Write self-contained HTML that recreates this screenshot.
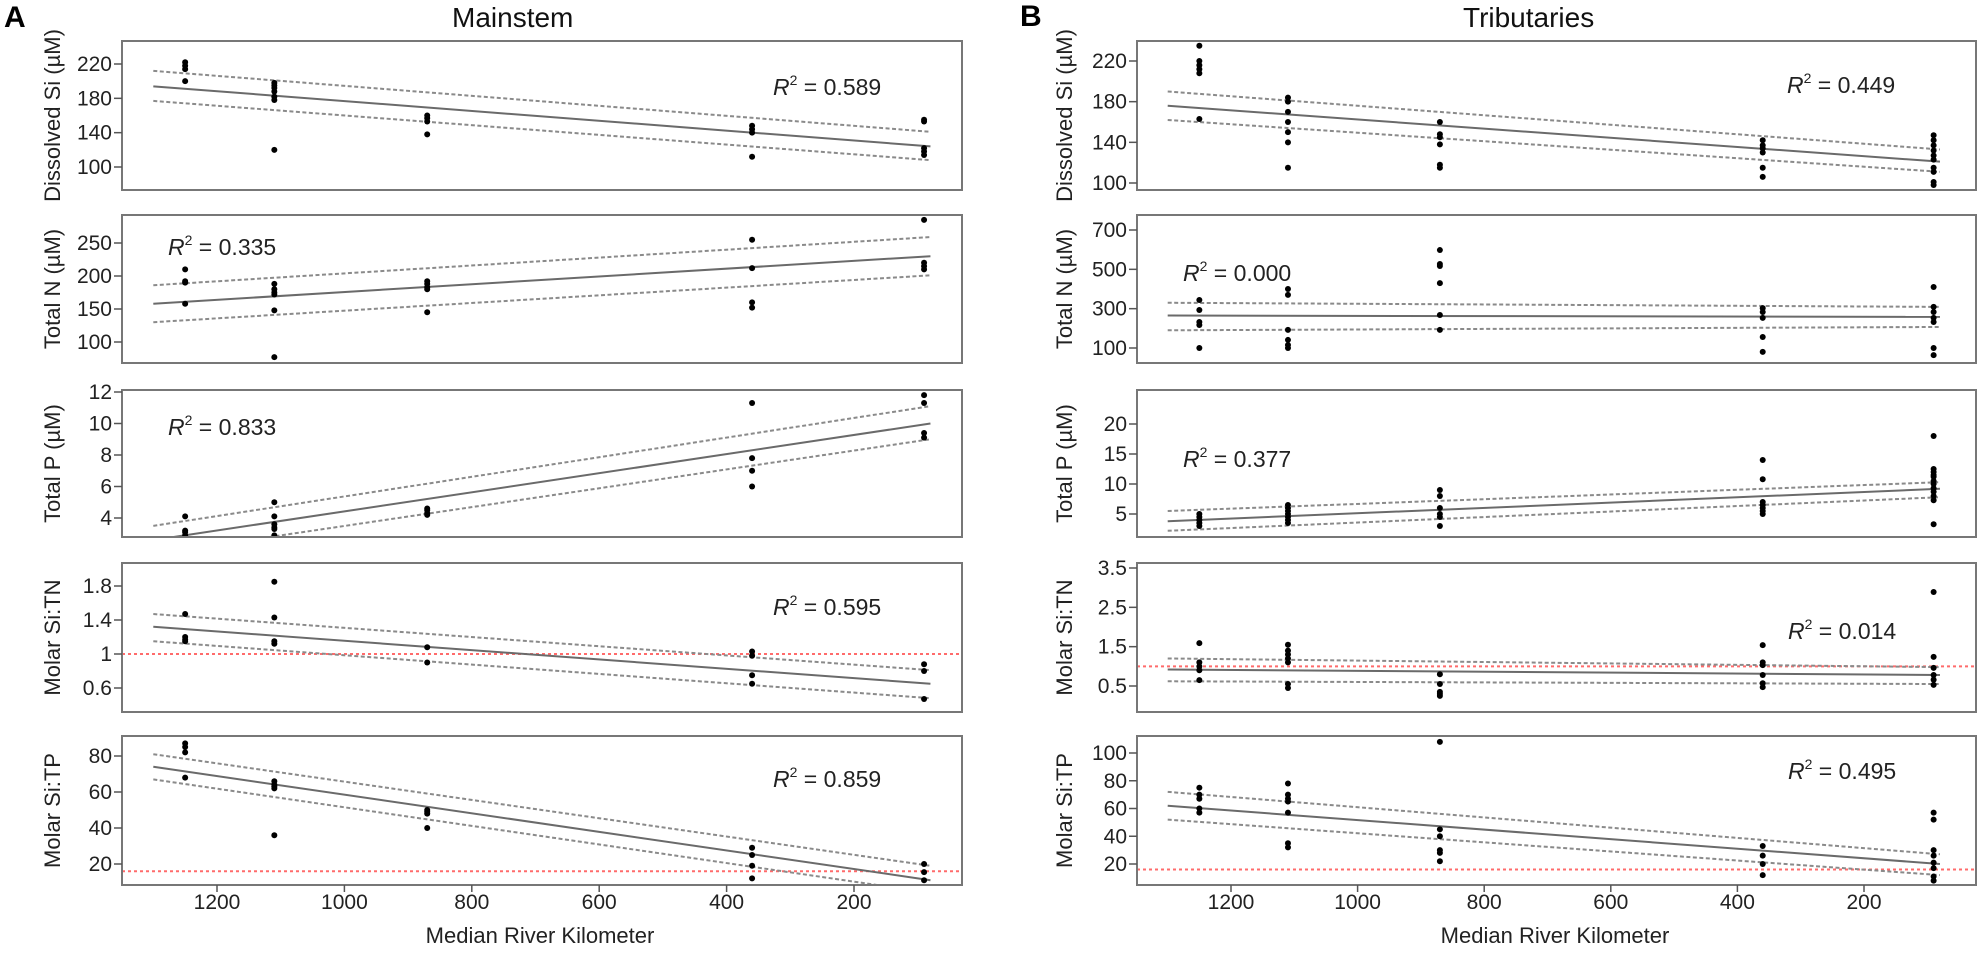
<!DOCTYPE html>
<html><head><meta charset="utf-8"><title>River nutrient regressions</title>
<style>
html,body{margin:0;padding:0;background:#fff;}
svg{display:block;font-family:"Liberation Sans",Arial,sans-serif;}
</style></head>
<body>
<svg id="chart" width="1981" height="954" viewBox="0 0 1981 954" xmlns="http://www.w3.org/2000/svg">
<text x="4" y="27" font-size="30" font-weight="bold" fill="#000">A</text>
<text x="1020" y="26" font-size="30" font-weight="bold" fill="#000">B</text>
<text x="452" y="27" font-size="28" fill="#111">Mainstem</text>
<text x="1463" y="27" font-size="28" fill="#111">Tributaries</text>
<text x="540" y="943" font-size="22" fill="#222" text-anchor="middle">Median River Kilometer</text>
<text x="1555" y="943" font-size="22" fill="#222" text-anchor="middle">Median River Kilometer</text>
</svg>
<script>
// x positions (river km) of sampling sites
const siteKm = [1250, 1110, 870, 360, 90];
const xTicks = [1200, 1000, 800, 600, 400, 200];
const panelTitles = ["Dissolved Si (µM)", "Total N (µM)", "Total P (µM)", "Molar Si:TN", "Molar Si:TP"];
const panelNames = ["dissolved-si", "total-n", "total-p", "molar-si-tn", "molar-si-tp"];

// Mainstem data (values per site)
const mainSi = [[222,218,214,200],[198,195,192,188,182,178,120],[160,157,153,138],[148,144,140,112],[155,153,122,118,114]];
const mainTN = [[210,192,190,158],[188,180,175,172,148,77],[192,188,183,180,145],[255,212,160,152],[285,220,215,210]];
const mainTP = [[4.1,3.2,3.1,2.9],[5.0,4.1,3.6,3.4,3.3,2.9],[4.6,4.5,4.3,4.2],[11.3,7.8,7.0,6.0],[11.8,11.3,9.4,9.1]];
const mainSiTN = [[1.47,1.2,1.17,1.15],[1.85,1.43,1.15,1.12],[1.08,0.9],[1.03,0.98,0.75,0.65],[0.88,0.80,0.47]];
const mainSiTP = [[87,85,82,68],[66,64,63,62,36],[50,49,48,40],[29,25,19,12],[20,15.5,11]];
// Mainstem fits: [value at 1300 km, value at 80 km]
const mainFitSi = [194,124], mainUpSi = [212,141], mainLoSi = [177,108];
const mainFitTN = [158,230], mainUpTN = [186,259], mainLoTN = [130,201];
const mainFitTP = [2.6,10.0], mainUpTP = [3.5,11.1], mainLoTP = [1.7,9.0];
const mainFitSiTN = [1.32,0.65], mainUpSiTN = [1.47,0.81], mainLoSiTN = [1.15,0.48];
const mainFitSiTP = [74,11], mainUpSiTP = [81,19], mainLoSiTP = [67,4];
const mainR2 = ["0.589","0.335","0.833","0.595","0.859"];

// Tributary data
const tribSi = [[235,220,216,212,208,163],[184,180,170,160,150,140,115],[160,148,145,138,118,115],[142,137,134,130,115,106],[147,142,137,132,127,123,115,111,101,98]];
const tribTN = [[344,293,232,217,100],[400,370,192,141,115,100],[598,527,517,430,268,192],[303,283,253,156,80],[410,309,283,253,232,100,64]];
const tribTP = [[5,4.5,4,3.5,3],[6.5,6,5.5,5,4.5,4,3.5],[9,8,6,5,4.5,3],[14,10.8,7,6.5,6,5.5,5],[18,12.5,12,11.5,11.2,10.5,10,9.3,8.7,8,7.3,3.3]];
const tribSiTN = [[1.59,1.1,1.0,0.9,0.65],[1.55,1.4,1.3,1.2,1.1,0.55,0.45],[0.8,0.55,0.35,0.3,0.25],[1.54,1.1,1.03,0.78,0.57,0.47],[2.89,1.24,0.96,0.78,0.66,0.53]];
const tribSiTP = [[75,70,67,60,57],[78,70,67,65,57,35,32],[108,45,40,30,28,22],[33,26,20,12],[57,52,30,26,21,17,11,8]];
const tribFitSi = [176,121], tribUpSi = [190,133], tribLoSi = [162,111];
const tribFitTN = [265,258], tribUpTN = [330,309], tribLoTN = [190,207];
const tribFitTP = [3.8,9.2], tribUpTP = [5.5,10.3], tribLoTP = [2.2,7.8];
const tribFitSiTN = [0.92,0.78], tribUpSiTN = [1.2,0.98], tribLoSiTN = [0.62,0.55];
const tribFitSiTP = [62,20], tribUpSiTP = [72,27], tribLoSiTP = [52,12];
const tribR2 = ["0.449","0.000","0.377","0.014","0.495"];

// Axis tick labels
const mainYTicks = [[220,180,140,100],[250,200,150,100],[12,10,8,6,4],[1.8,1.4,1,0.6],[80,60,40,20]];
const tribYTicks = [[220,180,140,100],[700,500,300,100],[20,15,10,5],[3.5,2.5,1.5,0.5],[100,80,60,40,20]];
const mainRefLines = [null,null,null,1,16];
const tribRefLines = [null,null,null,1,16];

// ---- layout (not data) ----
const NS = "http://www.w3.org/2000/svg";
const svg = document.getElementById("chart");
const panelTops = [41,215,390,563,736], panelBots = [190,363,537,712,885];
const mainYCal = [[220,64,100,167],[250,243,100,342],[12,392,4,518],[1.8,586,0.6,688],[80,756,20,864]];
const tribYCal = [[220,61,100,183],[700,230,100,348],[20,424,5,514],[3.5,568,0.5,686],[100,753,20,864]];
const mainR2Pos = [[773,95],[168,255],[168,435],[773,615],[773,787]];
const tribR2Pos = [[1787,93],[1183,281],[1183,467],[1788,639],[1788,779]];

function el(tag, attrs, parent){const e=document.createElementNS(NS,tag);for(const k in attrs)e.setAttribute(k,attrs[k]);(parent||svg).appendChild(e);return e;}

function drawColumn(col){
  const xScale = km => col.x0 + (col.kmRef - km) * col.kpx;
  for(let p=0;p<5;p++){
    const cal = col.yCal[p];
    const yScale = v => cal[1] + (cal[0]-v)*(cal[3]-cal[1])/(cal[0]-cal[2]);
    const top=panelTops[p], bot=panelBots[p];
    const g = el("g",{});
    
    
    const clipId = "clip-"+col.key+p;
    const cp = el("clipPath",{id:clipId},g);
    el("rect",{x:col.left,y:top,width:col.right-col.left,height:bot-top},cp);
    const plot = el("g",{"clip-path":"url(#"+clipId+")"},g);
    // reference line
    if(col.ref[p]!==null){
      const r = el("line",{x1:col.left,x2:col.right,y1:yScale(col.ref[p]),y2:yScale(col.ref[p]),stroke:"#ff6b6b","stroke-width":2,"stroke-dasharray":"3,3"},plot);
      
      
    }
    // CI lines
    [[col.up[p],"upper-ci"],[col.lo[p],"lower-ci"]].forEach(([v,n])=>{
      const l = el("line",{x1:xScale(1300),x2:xScale(80),y1:yScale(v[0]),y2:yScale(v[1]),stroke:"#8a8a8a","stroke-width":2,"stroke-dasharray":"4,2.5"},plot);
      
      
    });
    const fl = el("line",{x1:xScale(1300),x2:xScale(80),y1:yScale(col.fit[p][0]),y2:yScale(col.fit[p][1]),stroke:"#6a6a6a","stroke-width":2},plot);
    
    
    // points
    col.data[p].forEach((vals,si)=>{
      vals.forEach(v=>{
        const c = el("circle",{cx:xScale(siteKm[si]),cy:yScale(v),r:3,fill:"#000"},plot);
        
        
      });
    });
    // box
    const b = el("rect",{x:col.left,y:top,width:col.right-col.left,height:bot-top,fill:"none",stroke:"#777","stroke-width":2},g);
    
    
    // y ticks
    col.yTicks[p].forEach(t=>{
      const y=yScale(t);
      el("line",{x1:col.left-8,x2:col.left,y1:y,y2:y,stroke:"#555","stroke-width":1.5},g);
      const tx = el("text",{x:col.left-10,y:y+7,"font-size":21,"text-anchor":"end",fill:"#222"},g);
      tx.textContent = t;
      
      
    });
    // y title
    const cy=(top+bot)/2;
    const yt = el("text",{x:col.titleX,y:cy,"font-size":22,"text-anchor":"middle",fill:"#222",transform:"rotate(-90 "+col.titleX+" "+cy+")"},g);
    yt.textContent = panelTitles[p];
    
    
    // R2
    const pos=col.r2Pos[p];
    const rt = el("text",{x:pos[0],y:pos[1],"font-size":23,fill:"#222"},g);
    
    
    const i1 = el("tspan",{"font-style":"italic"},rt); i1.textContent="R";
    const s1 = el("tspan",{"font-size":14,dy:-10},rt); s1.textContent="2";
    const s2 = el("tspan",{dy:10}, rt); s2.textContent=" = "+col.r2[p];
  }
  // x ticks
  xTicks.forEach(t=>{
    const x=xScale(t);
    el("line",{x1:x,x2:x,y1:885,y2:892,stroke:"#555","stroke-width":1.5});
    const tx = el("text",{x:x,y:909,"font-size":21,"text-anchor":"middle",fill:"#222"});
    tx.textContent=t;
    
    
  });
}

drawColumn({key:"mainstem",left:122,right:962,x0:217,kmRef:1200,kpx:0.637,titleX:60,
  yCal:mainYCal,yTicks:mainYTicks,ref:mainRefLines,r2:mainR2,r2Pos:mainR2Pos,
  data:[mainSi,mainTN,mainTP,mainSiTN,mainSiTP],
  fit:[mainFitSi,mainFitTN,mainFitTP,mainFitSiTN,mainFitSiTP],
  up:[mainUpSi,mainUpTN,mainUpTP,mainUpSiTN,mainUpSiTP],
  lo:[mainLoSi,mainLoTN,mainLoTP,mainLoSiTN,mainLoSiTP]});
drawColumn({key:"tributaries",left:1137,right:1976,x0:1231,kmRef:1200,kpx:0.633,titleX:1072,
  yCal:tribYCal,yTicks:tribYTicks,ref:tribRefLines,r2:tribR2,r2Pos:tribR2Pos,
  data:[tribSi,tribTN,tribTP,tribSiTN,tribSiTP],
  fit:[tribFitSi,tribFitTN,tribFitTP,tribFitSiTN,tribFitSiTP],
  up:[tribUpSi,tribUpTN,tribUpTP,tribUpSiTN,tribUpSiTP],
  lo:[tribLoSi,tribLoTN,tribLoTP,tribLoSiTN,tribLoSiTP]});
</script>
</body></html>
